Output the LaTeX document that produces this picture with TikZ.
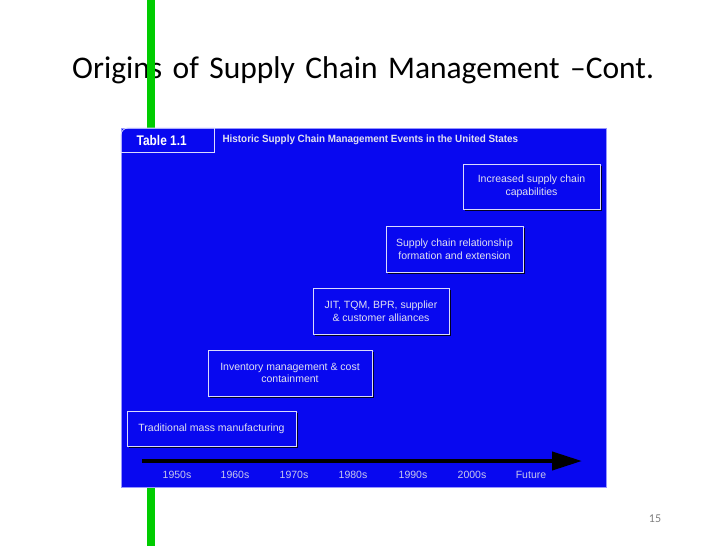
\documentclass[tikz,border=0pt]{standalone}
\usepackage{fontspec}
\setmainfont{Liberation Sans}
\newfontfamily\titlefont{Carlito}
\newfontfamily\condfont[FakeStretch=0.85]{Liberation Sans}
\newfontfamily\headfont[FakeStretch=0.94]{Liberation Sans}
\usetikzlibrary{arrows.meta, positioning, shadows}

\definecolor{slideblue}{RGB}{8,8,240}
\definecolor{bargreen}{RGB}{0,204,0}
\definecolor{edgeblue}{RGB}{150,150,255}
\definecolor{boxtext}{RGB}{225,225,240}
\definecolor{yeartext}{RGB}{200,200,235}

\begin{document}
\begin{tikzpicture}[
    x=1pt, y=-1pt,
    event/.style={rectangle, draw=white!85!slideblue, line width=0.8pt, fill=slideblue, align=center,
        inner sep=0pt, text=boxtext, font=\fontsize{10.5}{12.5}\selectfont,
        drop shadow={shadow xshift=2pt, shadow yshift=-2pt, fill=black!85!slideblue, opacity=1}},
    year/.style={font=\fontsize{10.5}{12}\selectfont, text=yeartext, inner sep=0pt},
    timeline/.style={-{Triangle[length=30pt, width=18pt]}, line width=4pt, black}
]
\useasboundingbox[fill=white] (0,0) rectangle (728,546);

\node[anchor=base west, font=\titlefont\fontsize{31.5}{40}\selectfont, inner sep=0pt] (title) at (72,78) {\spaceskip=10.5pt Origins of Supply Chain Management –Cont.};
\fill[bargreen] (147,0) rectangle (155,546);

% blue table panel
\node[anchor=north west, fill=slideblue, draw=edgeblue, minimum width=485pt, minimum height=359pt, inner sep=0pt] (panel) at (121,128) {};
\node[anchor=north west, minimum width=93pt, minimum height=24pt, inner sep=0pt, text=white, font=\condfont\bfseries\fontsize{14}{15}\selectfont] (tab) at (panel.north west) {\hspace*{-12pt}Table 1.1};
\draw[white!85!slideblue, line width=0.8pt] (tab.south west) [rounded corners=7pt] -- (tab.north west) [sharp corners] -- (tab.north east) -- (tab.south east) -- cycle;
\node[anchor=west, text=boxtext, font=\headfont\bfseries\fontsize{10.5}{12}\selectfont, inner sep=0pt] (head) at ([xshift=8pt]tab.east) {Historic Supply Chain Management Events in the United States};

% events
\node[event, minimum width=137pt, minimum height=45pt] (future) at (531.5,186.5) {Increased supply chain\\capabilities};
\node[event, minimum width=137pt, minimum height=46pt] (relation) at (454.5,249) {Supply chain relationship\\formation and extension};
\node[event, minimum width=136pt, minimum height=46pt] (jit) at (381,311) {JIT, TQM, BPR, supplier\\\& customer alliances};
\node[event, minimum width=164pt, minimum height=46pt] (inventory) at (290,373) {Inventory management \& cost\\containment};
\node[event, minimum width=169pt, minimum height=35pt] (mass) at (211.5,428.5) {Traditional mass manufacturing};

% time axis
\coordinate (tstart) at (142,461);
\coordinate (tend) at (582,461);
\draw[timeline] (tstart) -- (tend);
\foreach \yr/\xx in {1950s/177, 1960s/235, 1970s/294, 1980s/353, 1990s/413, 2000s/472, Future/531}
    \node[year] (yr\yr) at (\xx,475) {\yr};

\node[font=\titlefont\fontsize{12}{14}\selectfont, text=gray, inner sep=0pt] (pagenum) at (655,519) {15};
\end{tikzpicture}
\end{document}
